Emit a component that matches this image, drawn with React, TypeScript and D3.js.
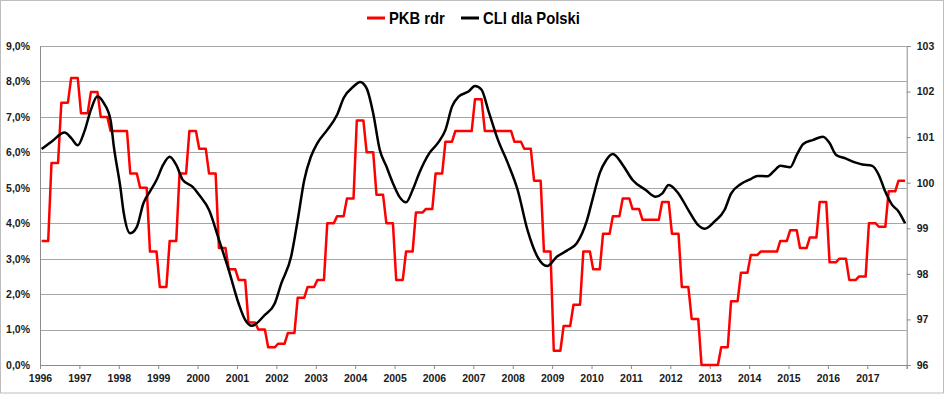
import React, { useEffect, useRef } from "react";
import * as d3 from "d3";

// x axis: monthly categories Jan 1996 .. Dec 2017
const yearLabels = d3.range(1996, 2018).map(String);
const monthCount = 264;

// PKB rdr, % y/y, one value per quarter (each quarter drawn over its 3 months)
const gdpQuarterly = [
  3.5, 5.7, 7.4, 8.1,
  7.1, 7.7, 7.0, 6.6,
  6.6, 5.4, 5.0, 3.2,
  2.2, 3.5, 5.4, 6.6,
  6.1, 5.4, 3.3, 2.7,
  2.4, 1.2, 1.0, 0.5,
  0.6, 0.9, 1.9, 2.2,
  2.4, 4.0, 4.2, 4.7,
  6.9, 6.0, 4.8, 4.0,
  2.4, 3.2, 4.3, 4.4,
  5.4, 6.3, 6.6, 6.6,
  7.5, 6.6, 6.6, 6.6,
  6.3, 6.1, 5.2, 3.2,
  0.4, 1.1, 1.7, 3.2,
  2.7, 3.7, 4.2, 4.7,
  4.4, 4.1, 4.1, 4.6,
  3.7, 2.2, 1.3, 0.0,
  0.0, 0.5, 1.8, 2.6,
  3.1, 3.2, 3.2, 3.5,
  3.8, 3.3, 3.6, 4.6,
  2.9, 3.0, 2.4, 2.5,
  4.0, 3.9, 4.9, 5.2,
];

// CLI dla Polski: month index (0 = Jan 1996) and index value
const cliMonths = [
  0, 3, 7, 9, 11, 13, 15, 17, 19, 21, 22, 24, 25, 27, 29, 31, 33, 35, 37, 39,
  41, 43, 46, 48, 51, 54, 57, 60, 62, 64, 68, 71, 73, 76, 78, 80, 82, 84, 87, 90,
  92, 95, 97, 99, 101, 103, 105, 107, 109, 111, 113, 115, 118, 121, 123, 125, 127, 130, 132, 134,
  136, 139, 142, 145, 148, 151, 154, 157, 160, 163, 166, 168, 170, 172, 174, 177, 180, 184, 187, 189,
  191, 194, 197, 200, 202, 205, 208, 210, 213, 216, 218, 221, 223, 225, 228, 230, 232, 235, 238, 240,
  242, 245, 248, 250, 253, 255, 257, 259, 261, 263,
];
const cliValues = [
  100.74, 100.9, 101.1, 100.98, 100.82, 101.12, 101.6, 101.9, 101.74, 101.37, 100.79, 99.89, 99.34, 98.89, 99.03, 99.55, 99.81, 100.06, 100.39, 100.57,
  100.39, 100.06, 99.91, 99.73, 99.4, 98.75, 98.08, 97.35, 96.99, 96.86, 97.1, 97.35, 97.79, 98.38, 99.18, 100.06, 100.57, 100.87, 101.16, 101.49,
  101.86, 102.11, 102.21, 102.07, 101.52, 100.72, 100.36, 99.99, 99.69, 99.57, 99.84, 100.21, 100.64, 100.9, 101.16, 101.67, 101.89, 102.0, 102.12, 102.04,
  101.6, 100.94, 100.43, 99.84, 98.96, 98.38, 98.17, 98.38, 98.51, 98.67, 99.15, 99.69, 100.21, 100.5, 100.63, 100.39, 100.06, 99.84, 99.69, 99.76,
  99.95, 99.76, 99.4, 99.07, 98.99, 99.15, 99.4, 99.76, 99.97, 100.08, 100.15, 100.14, 100.25, 100.37, 100.34, 100.61, 100.85, 100.94, 101.01, 100.87,
  100.61, 100.53, 100.44, 100.4, 100.37, 100.17, 99.8, 99.52, 99.37, 99.11,
];

const leftTicks = d3.range(0, 10);
const rightTicks = d3.range(96, 104);

const W = 945;
const H = 394;

const App = () => {
  const ref = useRef(null);

  useEffect(() => {
    const svg = d3.select(ref.current);
    svg.selectAll("*").remove();

    const left = 40, right = 906.7, top = 46, bottom = 365;
    const font = "'Liberation Sans', Arial, sans-serif";

    const x = d3.scaleLinear().domain([0, monthCount]).range([left, right]);
    const yL = d3.scaleLinear().domain([0, 9]).range([bottom, top]);
    const yR = d3.scaleLinear().domain([96, 103]).range([bottom, top]);

    // chart border
    svg.append("rect")
      .attr("x", 0.5).attr("y", 0.5)
      .attr("width", W - 2).attr("height", H - 1.5)
      .attr("fill", "#fff").attr("stroke", "#bdbdbd");

    // gridlines
    svg.append("g")
      .selectAll("line")
      .data(leftTicks)
      .join("line")
      .attr("x1", left).attr("x2", right)
      .attr("y1", (d) => Math.round(yL(d)) + 0.5)
      .attr("y2", (d) => Math.round(yL(d)) + 0.5)
      .attr("stroke", "#a6a6a6").attr("stroke-width", 1);

    // left axis
    const gl = svg.append("g").attr("transform", `translate(${left},0)`)
      .call(d3.axisLeft(yL).tickValues(leftTicks).tickSize(0).tickPadding(10)
        .tickFormat((d) => d3.format(".1f")(d).replace(".", ",") + "%"));
    gl.select(".domain").attr("stroke", "#8c8c8c");
    gl.selectAll("text").attr("font-family", font).attr("font-size", 10.5)
      .attr("font-weight", "bold").attr("fill", "#1a1a1a");

    // right axis
    const gr = svg.append("g").attr("transform", `translate(${right},0)`)
      .call(d3.axisRight(yR).tickValues(rightTicks).tickSize(4).tickPadding(6)
        .tickFormat(d3.format("d")));
    gr.selectAll(".domain, line").attr("stroke", "#8c8c8c");
    gr.selectAll("text").attr("font-family", font).attr("font-size", 10.5)
      .attr("font-weight", "bold").attr("fill", "#1a1a1a");

    // bottom axis
    const gx = svg.append("g").attr("transform", `translate(0,${bottom})`)
      .call(d3.axisBottom(x).tickValues(d3.range(0, monthCount + 1, 12))
        .tickSize(4).tickPadding(6)
        .tickFormat((d, i) => yearLabels[i] || ""));
    gx.selectAll(".domain, line").attr("stroke", "#8c8c8c");
    gx.selectAll("text").attr("font-family", font).attr("font-size", 10.5)
      .attr("font-weight", "bold").attr("fill", "#1a1a1a");

    // PKB rdr: each quarter's value over its three months
    const gdpMonthly = d3.range(monthCount).map((m) => gdpQuarterly[Math.floor(m / 3)]);
    const gdpLine = d3.line<number>()
      .x((_, i) => x(i + 0.5))
      .y((d) => yL(d));
    svg.append("path")
      .datum(gdpMonthly)
      .attr("d", gdpLine)
      .attr("fill", "none").attr("stroke", "#ff0000")
      .attr("stroke-width", 2.5).attr("stroke-linejoin", "round");

    // CLI
    const cliLine = d3.line<number>()
      .x((_, i) => x(cliMonths[i] + 0.5))
      .y((d) => yR(d))
      .curve(d3.curveMonotoneX);
    svg.append("path")
      .datum(cliValues)
      .attr("d", cliLine)
      .attr("fill", "none").attr("stroke", "#000")
      .attr("stroke-width", 2.5).attr("stroke-linejoin", "round");

    // legend (narrow bold text, like the original Calibri)
    const legend = [
      { name: "PKB rdr", color: "#ff0000", x: 367 },
      { name: "CLI dla Polski", color: "#000", x: 461 },
    ];
    const lg = svg.append("g");
    legend.forEach((l) => {
      lg.append("line")
        .attr("x1", l.x).attr("x2", l.x + 18)
        .attr("y1", 18).attr("y2", 18)
        .attr("stroke", l.color).attr("stroke-width", 3);
      lg.append("text")
        .attr("transform", `translate(${l.x + 22},18) scale(0.87,1)`)
        .attr("dy", "0.36em")
        .attr("font-family", font)
        .attr("font-size", 17).attr("font-weight", "bold")
        .attr("fill", "#000")
        .text(l.name);
    });
  }, []);

  return (
    <svg
      ref={ref}
      width={W}
      height={H}
      style={{ position: "fixed", left: 0, top: 0, background: "#fff" }}
    />
  );
};

export default App;
